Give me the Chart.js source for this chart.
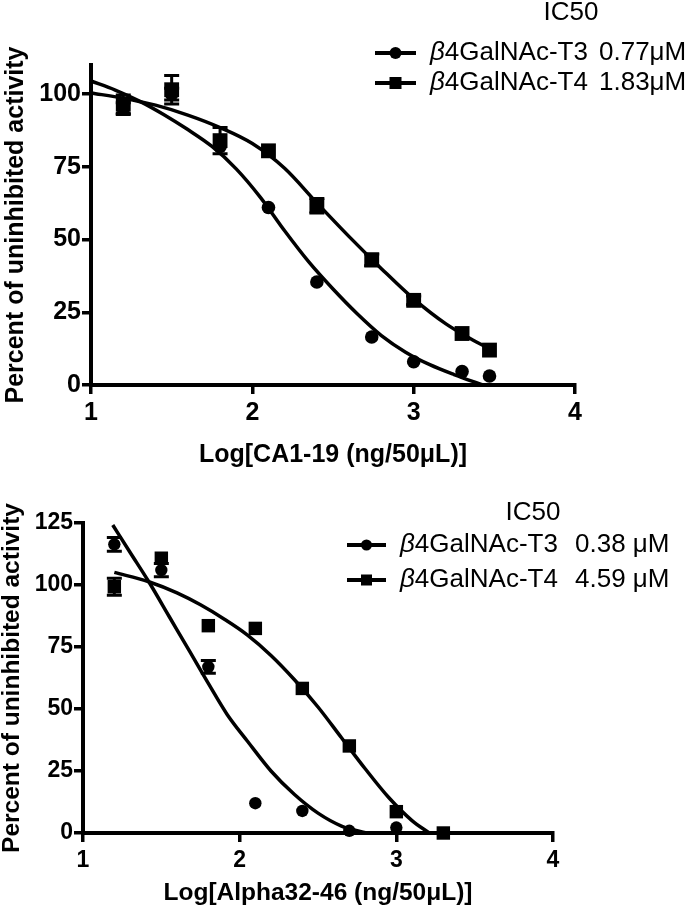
<!DOCTYPE html>
<html>
<head>
<meta charset="utf-8">
<script src="https://cdn.jsdelivr.net/npm/chart.js@4.4.1/dist/chart.umd.min.js"></script>
<style>
  html, body { margin: 0; padding: 0; background: #fff; }
  #wrap { position: relative; width: 693px; height: 915px; background: #fff; }
  canvas { position: absolute; left: 0; }
</style>
</head>
<body>
<div id="wrap">
  <canvas id="c1" width="693" height="470" style="top:0px"></canvas>
  <canvas id="c2" width="693" height="445" style="top:470px"></canvas>
</div>
<script>
// ---------------- DATA ----------------
const seriesNames = ['β4GalNAc-T3', 'β4GalNAc-T4'];
const legendHeader = 'IC50';

// Panel A: CA1-19
const caTitleX = 'Log[CA1-19 (ng/50μL)]';
const caTitleY = 'Percent of uninhibited activity';
const caIC50 = ['0.77μM', '1.83μM'];
const caXTicks = [1, 2, 3, 4];
const caYTicks = [0, 25, 50, 75, 100];

const caT3x   = [1.2, 1.5, 1.8, 2.1, 2.4, 2.74, 3.0, 3.3, 3.47];
const caT3y   = [95, 100, 82, 61, 35.4, 16.5, 8, 4.6, 3.1];
const caT3err = [2, 2, 0, 0, 0, 0, 0, 0, 0];
const caT4x   = [1.2, 1.5, 1.8, 2.1, 2.4, 2.74, 3.0, 3.3, 3.47];
const caT4y   = [96.5, 101.5, 84, 80.5, 61.6, 43, 29.1, 17.7, 12];
const caT4err = [3.2, 4.9, 4.5, 0, 2.5, 2, 1.5, 0, 0];

// fitted curves
const caT3curveX = [1.0, 1.15, 1.3, 1.45, 1.6, 1.75, 1.9, 2.05, 2.2, 2.35, 2.5, 2.65, 2.8, 2.95, 3.1, 3.25, 3.43];
const caT3curveY = [104.5, 101.4, 97.6, 93, 87.8, 82, 74.3, 64.5, 53, 42.3, 33, 24.5, 17, 11.3, 7, 3.6, 0];
const caT4curveX = [1.0, 1.2, 1.4, 1.6, 1.8, 2.0, 2.2, 2.4, 2.6, 2.8, 3.0, 3.2, 3.35, 3.48];
const caT4curveY = [100.4, 98.6, 96.2, 92.8, 88.5, 83, 74.5, 62.6, 51, 40, 29.6, 21, 16, 12.2];

// Panel B: Alpha32-46
const alTitleX = 'Log[Alpha32-46 (ng/50μL)]';
const alTitleY = 'Percent of uninhibited activity';
const alIC50 = ['0.38 μM', '4.59 μM'];
const alXTicks = [1, 2, 3, 4];
const alYTicks = [0, 25, 50, 75, 100, 125];

const alT3x   = [1.2, 1.5, 1.8, 2.1, 2.4, 2.7, 3.0];
const alT3y   = [116.4, 106, 67, 12, 8.9, 0.9, 2.2];
const alT3err = [2.8, 2.7, 2.6, 0, 0, 0, 0];
const alT4x   = [1.2, 1.5, 1.8, 2.1, 2.4, 2.7, 3.0, 3.3];
const alT4y   = [99.3, 110.8, 83.6, 82.5, 58.3, 35.1, 8.6, 0];
const alT4err = [3.4, 0, 0, 0, 0, 0, 0, 0];

const alT3curveX = [1.19, 1.3, 1.42, 1.55, 1.68, 1.8, 1.92, 2.05, 2.2, 2.35, 2.5, 2.65, 2.81];
const alT3curveY = [124.2, 113.2, 101.3, 87.3, 73.3, 60.3, 47.8, 37, 25, 15.5, 8, 2.8, 0];
const alT4curveX = [1.2, 1.42, 1.6, 1.75, 1.9, 2.05, 2.2, 2.35, 2.5, 2.65, 2.8, 2.95, 3.1, 3.21];
const alT4curveY = [105.1, 101.3, 96.8, 92, 86.3, 79.8, 71.6, 61.8, 50.8, 38.4, 26, 14.4, 5, 0];

// ---------------- HELPERS ----------------
const FONT = '"Liberation Sans", Arial, sans-serif';
const toPts = (xs, ys) => xs.map((x, i) => ({ x: x, y: ys[i] }));

const errorBarPlugin = {
  id: 'errorBars',
  afterDatasetsDraw(chart) {
    const ctx = chart.ctx;
    const ys = chart.scales.y;
    chart.data.datasets.forEach((ds, di) => {
      if (!ds.errors) return;
      const meta = chart.getDatasetMeta(di);
      meta.data.forEach((el, i) => {
        const e = ds.errors[i];
        if (!e) return;
        const v = ds.data[i].y;
        const yTop = ys.getPixelForValue(v + e);
        const yBot = ys.getPixelForValue(v - e);
        const cw = ds.capWidth || 14;
        ctx.save();
        ctx.strokeStyle = '#000';
        ctx.lineWidth = 3;
        ctx.beginPath();
        ctx.moveTo(el.x, yTop); ctx.lineTo(el.x, yBot);
        ctx.moveTo(el.x - cw / 2, yTop); ctx.lineTo(el.x + cw / 2, yTop);
        ctx.moveTo(el.x - cw / 2, yBot); ctx.lineTo(el.x + cw / 2, yBot);
        ctx.stroke();
        ctx.restore();
      });
    });
  }
};

const customLegendPlugin = {
  id: 'customLegend',
  afterDraw(chart, args, o) {
    if (!o || !o.rows) return;
    const ctx = chart.ctx;
    ctx.save();
    ctx.fillStyle = '#000';
    ctx.strokeStyle = '#000';
    ctx.textBaseline = 'middle';
    ctx.font = o.size + 'px ' + FONT;
    ctx.textAlign = 'center';
    ctx.fillText(o.header, o.headerX, o.headerY);
    ctx.textAlign = 'left';
    o.rows.forEach((r, i) => {
      const y = o.rowY[i];
      ctx.lineWidth = 4;
      ctx.beginPath();
      ctx.moveTo(o.lineX0, y); ctx.lineTo(o.lineX1, y);
      ctx.stroke();
      const mx = (o.lineX0 + o.lineX1) / 2;
      if (r.style === 'circle') {
        ctx.beginPath(); ctx.arc(mx, y, o.markR, 0, Math.PI * 2); ctx.fill();
      } else {
        ctx.fillRect(mx - o.markR, y - o.markR, o.markR * 2, o.markR * 2);
      }
      const first = r.name.charAt(0), rest = r.name.slice(1);
      ctx.font = 'italic ' + o.size + 'px ' + FONT;
      ctx.fillText(first, o.textX, y);
      const w = ctx.measureText(first).width;
      ctx.font = o.size + 'px ' + FONT;
      ctx.fillText(rest, o.textX + w, y);
      ctx.fillText(r.value, o.valueX, y);
    });
    ctx.restore();
  }
};

function makeChart(canvasId, cfg) {
  const axisCommon = (tickSize) => ({
    grid: { display: true, drawOnChartArea: false, drawTicks: true, tickLength: 9, lineWidth: 3.5, color: '#000' },
    border: { display: true, width: 4, color: '#000' },
    ticks: { color: '#000', font: { family: FONT, weight: 'bold', size: tickSize } }
  });
  const xAxis = axisCommon(cfg.tickSize);
  Object.assign(xAxis, {
    type: 'linear', min: cfg.xMin, max: cfg.xMax,
    afterBuildTicks: (s) => { s.ticks = cfg.xTicks.map(v => ({ value: v })); },
    afterFit: (s) => { s.height = cfg.xAxisH; },
    title: { display: true, text: cfg.titleX, color: '#000', font: { family: FONT, weight: 'bold', size: cfg.titleSize }, padding: { top: 0, bottom: cfg.xTitlePad } }
  });
  xAxis.ticks.padding = cfg.xTickPad;
  const yAxis = axisCommon(cfg.tickSize);
  Object.assign(yAxis, {
    type: 'linear', min: cfg.yMin, max: cfg.yMax,
    afterBuildTicks: (s) => { s.ticks = cfg.yTicks.map(v => ({ value: v })); },
    afterFit: (s) => { s.width = cfg.yAxisW; },
    title: { display: true, text: cfg.titleY, color: '#000', font: { family: FONT, weight: 'bold', size: cfg.titleSize }, padding: { top: cfg.yTitlePad, bottom: 0 } }
  });
  yAxis.ticks.padding = 1;

  const curve = (xs, ys) => ({
    type: 'scatter', data: toPts(xs, ys), showLine: true, pointRadius: 0,
    borderColor: '#000', borderWidth: 3.5, cubicInterpolationMode: 'monotone', fill: false, clip: false, order: 2
  });
  const pts = (xs, ys, errs, style, r) => ({
    type: 'scatter', data: toPts(xs, ys), errors: errs, showLine: false,
    pointStyle: style, pointRadius: r, backgroundColor: '#000', borderColor: '#000', borderWidth: 0,
    clip: false, order: 1, capWidth: 15
  });

  return new Chart(document.getElementById(canvasId), {
    type: 'scatter',
    data: {
      datasets: [
        curve(cfg.t3cx, cfg.t3cy),
        curve(cfg.t4cx, cfg.t4cy),
        pts(cfg.t3x, cfg.t3y, cfg.t3e, 'circle', cfg.circR),
        pts(cfg.t4x, cfg.t4y, cfg.t4e, 'rect', cfg.rectR)
      ]
    },
    options: {
      responsive: false, animation: false,
      layout: { padding: { top: cfg.padTop, right: cfg.padRight, left: 0, bottom: 0 } },
      plugins: {
        legend: { display: false }, tooltip: { enabled: false },
        customLegend: cfg.legend
      },
      scales: { x: xAxis, y: yAxis }
    },
    plugins: [errorBarPlugin, customLegendPlugin]
  });
}

makeChart('c1', {
  xMin: 1, xMax: 4, yMin: 0, yMax: 110, xTicks: caXTicks, yTicks: caYTicks,
  titleX: caTitleX, titleY: caTitleY, tickSize: 25, titleSize: 25,
  padTop: 65, padRight: 118, yAxisW: 91, xAxisH: 85, xTitlePad: 0, yTitlePad: 1, xTickPad: 4,
  t3x: caT3x, t3y: caT3y, t3e: caT3err, t4x: caT4x, t4y: caT4y, t4e: caT4err,
  t3cx: caT3curveX, t3cy: caT3curveY, t4cx: caT4curveX, t4cy: caT4curveY,
  circR: 6.8, rectR: 10.5,
  legend: {
    header: legendHeader, headerX: 571, headerY: 13, size: 26,
    rowY: [53, 83], lineX0: 375, lineX1: 416, markR: 6, textX: 430, valueX: 599,
    rows: [{ name: seriesNames[0], value: caIC50[0], style: 'circle' }, { name: seriesNames[1], value: caIC50[1], style: 'rect' }]
  }
});

makeChart('c2', {
  xMin: 1, xMax: 4, yMin: 0, yMax: 125, xTicks: alXTicks, yTicks: alYTicks,
  titleX: alTitleX, titleY: alTitleY, tickSize: 23, titleSize: 24.5,
  padTop: 53, padRight: 140, yAxisW: 83, xAxisH: 82, xTitlePad: 7, yTitlePad: -2, xTickPad: 5,
  t3x: alT3x, t3y: alT3y, t3e: alT3err, t4x: alT4x, t4y: alT4y, t4e: alT4err,
  t3cx: alT3curveX, t3cy: alT3curveY, t4cx: alT4curveX, t4cy: alT4curveY,
  circR: 6.2, rectR: 9.5,
  legend: {
    header: legendHeader, headerX: 533, headerY: 43, size: 26,
    rowY: [75, 110], lineX0: 347, lineX1: 386, markR: 5.5, textX: 400, valueX: 575,
    rows: [{ name: seriesNames[0], value: alIC50[0], style: 'circle' }, { name: seriesNames[1], value: alIC50[1], style: 'rect' }]
  }
});
</script>
</body>
</html>
